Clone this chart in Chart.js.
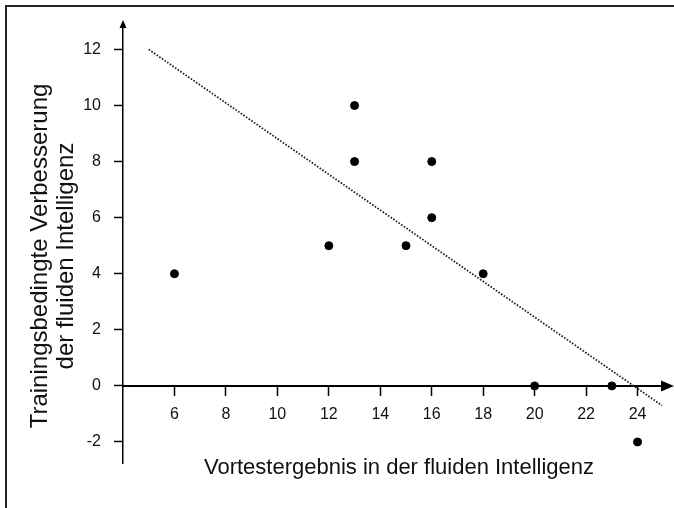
<!DOCTYPE html>
<html>
<head>
<meta charset="utf-8">
<script src="https://cdn.jsdelivr.net/npm/chart.js@4"></script>
<style>
  html, body { margin: 0; padding: 0; background: #fff; }
  #wrap { width: 674px; height: 508px; }
</style>
</head>
<body>
<div id="wrap"><canvas id="scatterChart" width="674" height="508"></canvas></div>
<script>
// pretest score vs. training gain
const pretestScores = [6, 12, 13, 13, 15, 16, 16, 18, 20, 23, 24];
const trainingGains = [4, 5, 10, 8, 5, 8, 6, 4, 0, 0, -2];

// dotted regression line, two ends
const trendX = [5, 24.95];
const trendY = [12, -0.7];

const xTickValues = [6, 8, 10, 12, 14, 16, 18, 20, 22, 24];
const yTickValues = [-2, 0, 2, 4, 6, 8, 10, 12];

const yTitleLines = ['Trainingsbedingte Verbesserung', 'der fluiden Intelligenz'];
const xTitle = 'Vortestergebnis in der fluiden Intelligenz';

const FONT = '"Liberation Sans", Arial, sans-serif';

// frame, arrows and axis titles
const decorPlugin = {
    id: 'decor',
    beforeDraw(chart) {
        const c = chart.ctx;
        c.save();
        c.fillStyle = '#fff';
        c.fillRect(0, 0, chart.width, chart.height);
        c.restore();
    },
    afterDraw(chart) {
        const c = chart.ctx;
        const xs = chart.scales.x, ys = chart.scales.y;
        const axisX = xs.getPixelForValue(xs.min);
        const axisY = ys.getPixelForValue(0);
        const top = ys.top, right = xs.right;
        c.save();

        // frame (top + left only)
        c.strokeStyle = '#222';
        c.lineWidth = 2;
        c.beginPath();
        c.moveTo(6, chart.height);
        c.lineTo(6, 6);
        c.lineTo(chart.width, 6);
        c.stroke();

        // arrow heads
        c.fillStyle = '#000';
        c.beginPath();
        c.moveTo(axisX, top - 7);
        c.lineTo(axisX - 3.5, top + 1);
        c.lineTo(axisX + 3.5, top + 1);
        c.closePath();
        c.fill();

        c.beginPath();
        c.moveTo(right + 12, axisY);
        c.lineTo(right - 1, axisY - 5.5);
        c.lineTo(right - 1, axisY + 5.5);
        c.closePath();
        c.fill();

        // titles
        c.fillStyle = '#111';
        c.textAlign = 'center';
        c.textBaseline = 'middle';
        c.font = '22px ' + FONT;
        c.fillText(xTitle, 399, 468);

        c.font = '24px ' + FONT;
        c.translate(40, 256);
        c.rotate(-Math.PI / 2);
        yTitleLines.forEach((line, i) => {
            c.fillText(line, 0, i * 26);
        });
        c.restore();
    }
};

const ctx = document.getElementById('scatterChart').getContext('2d');

new Chart(ctx, {
    type: 'scatter',
    data: {
        datasets: [{
            label: 'Teilnehmer',
            data: pretestScores.map((x, i) => ({ x, y: trainingGains[i] })),
            backgroundColor: '#000',
            borderColor: '#000',
            pointRadius: 4,
            pointHoverRadius: 4
        }, {
            label: 'Regression',
            type: 'line',
            data: trendX.map((x, i) => ({ x, y: trendY[i] })),
            borderColor: '#222',
            borderWidth: 1.8,
            borderDash: [1.6, 1.6],
            pointRadius: 0,
            fill: false,
            clip: false
        }]
    },
    options: {
        responsive: false,
        animation: false,
        layout: {
            padding: { left: 0, top: 27, right: 12, bottom: 45 }
        },
        plugins: {
            legend: { display: false },
            tooltip: { enabled: false }
        },
        scales: {
            x: {
                type: 'linear',
                position: { y: 0 },
                min: 4,
                max: 24.95,
                afterBuildTicks: (s) => { s.ticks = xTickValues.map(v => ({ value: v })); },
                grid: {
                    display: true,
                    drawOnChartArea: false,
                    drawTicks: true,
                    tickLength: 9,
                    tickWidth: 1.5,
                    color: '#000'
                },
                border: { display: true, color: '#000', width: 2 },
                ticks: {
                    color: '#111',
                    padding: 10,
                    maxRotation: 0,
                    font: { family: FONT, size: 16 }
                },
                title: { display: false }
            },
            y: {
                type: 'linear',
                position: 'left',
                min: -2.75,
                max: 12.8,
                afterBuildTicks: (s) => { s.ticks = yTickValues.map(v => ({ value: v })); },
                afterFit: (s) => { s.width = 123; },
                grid: {
                    display: true,
                    drawOnChartArea: false,
                    drawTicks: true,
                    tickLength: 9,
                    tickWidth: 1.5,
                    color: '#000'
                },
                border: { display: true, color: '#000', width: 1.5 },
                ticks: {
                    color: '#111',
                    padding: 13,
                    font: { family: FONT, size: 16 }
                },
                title: { display: false }
            }
        }
    },
    plugins: [decorPlugin]
});
</script>
</body>
</html>
